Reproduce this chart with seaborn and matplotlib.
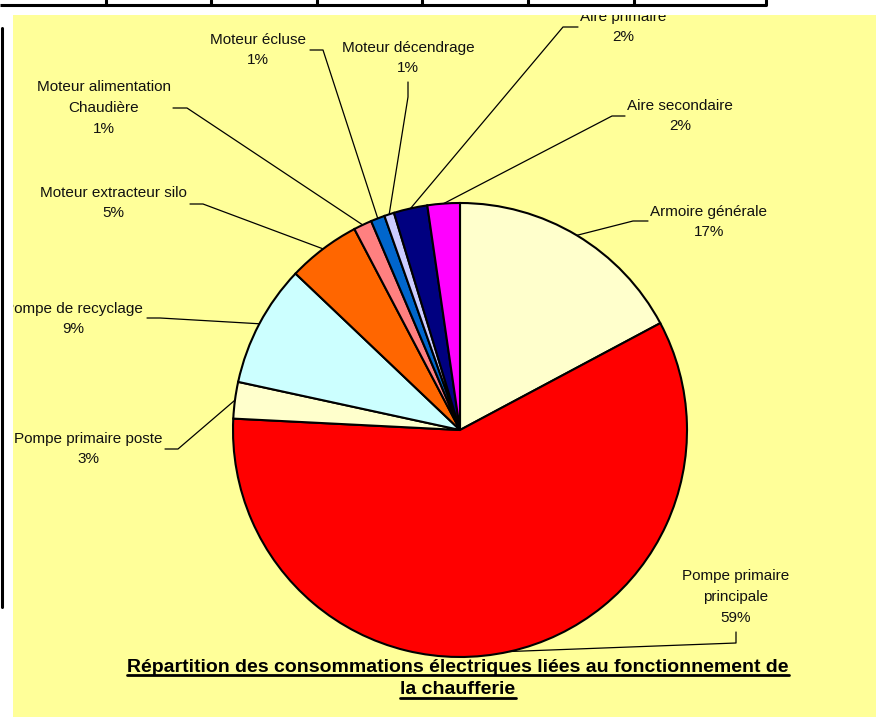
import matplotlib
matplotlib.use("Agg")
import matplotlib.pyplot as plt
from matplotlib.lines import Line2D
import seaborn as sns
import numpy as np

# ---------------- data ----------------
categories = ["Armoire générale", "Pompe primaire principale", "Pompe primaire poste",
              "Pompe de recyclage", "Moteur extracteur silo", "Moteur alimentation Chaudière",
              "Moteur écluse", "Moteur décendrage", "Aire primaire", "Aire secondaire"]
label_names = ["Armoire générale", "Pompe primaire\nprincipale", "Pompe primaire poste",
               "Pompe de recyclage", "Moteur extracteur silo", "Moteur alimentation\nChaudière",
               "Moteur écluse", "Moteur décendrage", "Aire primaire", "Aire secondaire"]
values = [17.2, 58.6, 2.6, 8.7, 5.2, 1.3, 1.0, 0.7, 2.4, 2.3]
colors = ["#FFFFCC", "#FF0000", "#FFFFCC", "#CCFFFF", "#FF6600",
          "#FF8080", "#0066CC", "#CCCCFF", "#000080", "#FF00FF"]
title_lines = ["Répartition des consommations électriques liées au fonctionnement de",
               "la chaufferie"]

# ---------------- layout (pixel positions, y measured from top) ----------------
W, H = 876, 717
PANEL_X0, PANEL_Y0 = 13, 15
CENTER_PX = (460, 430)
RADIUS_PX = 227
label_pos = [(709, 222), (736, 597), (88, 449), (73, 319), (113, 203),
             (104, 108), (258, 50), (408, 58), (623, 27), (680, 116)]
leader_pts = [[(633, 221), (648, 221)], [(736, 643), (736, 632)], [(178, 449), (165, 449)],
              [(160, 318), (147, 318)], [(203, 204), (190, 204)], [(187, 108), (173, 108)],
              [(323, 50), (310, 50)], [(408, 97), (408, 82)], [(563, 27), (578, 27)],
              [(612, 116), (625, 116)]]
title_y = [667, 690]
YELLOW = "#FFFF99"

sns.set_theme(style="white")
plt.rcParams['font.family'] = ['Liberation Sans', 'DejaVu Sans']

fig = plt.figure(figsize=(W / 100, H / 100), dpi=100)
fig.patch.set_facecolor("white")

# background axes in figure pixels (y down) for the table remnants
bg = fig.add_axes([0, 0, 1, 1])
bg.set_xlim(0, W)
bg.set_ylim(H, 0)
bg.axis("off")
table_x = [106, 211, 317, 422, 528, 634, 766]
bg.plot([0, 766], [5, 5], color="black", lw=2.2, solid_capstyle="butt")
for tx in table_x:
    bg.plot([tx, tx], [0, 5], color="black", lw=2.2)
bg.plot([2, 2], [28, 607], color="black", lw=2.2)

# yellow chart area
ax = fig.add_axes([PANEL_X0 / W, 0, (W - PANEL_X0) / W, (H - PANEL_Y0) / H])
ax.set_facecolor(YELLOW)
for s in ax.spines.values():
    s.set_visible(False)

def to_data(p):
    return p[0], H - p[1]

cx, cy = to_data(CENTER_PX)
pal = sns.color_palette(colors)
wedges, _ = ax.pie(values, colors=pal, startangle=90, counterclock=False,
                   center=(cx, cy), radius=RADIUS_PX, frame=True,
                   wedgeprops=dict(edgecolor="black", linewidth=1.5))
ax.set_xlim(PANEL_X0, W)
ax.set_ylim(0, H - PANEL_Y0)
ax.set_aspect("auto")
ax.set_xticks([])
ax.set_yticks([])

total = sum(values)
for w, name, v, lp, pts in zip(wedges, label_names, values, label_pos, leader_pts):
    mid = np.deg2rad((w.theta1 + w.theta2) / 2)
    ex = w.center[0] + w.r * np.cos(mid)
    ey = w.center[1] + w.r * np.sin(mid)
    xs = [ex] + [p[0] for p in pts]
    ys = [ey] + [H - p[1] for p in pts]
    ax.plot(xs, ys, color="black", lw=0.9, zorder=3, clip_on=True)
    pct = f"{round(v / total * 100):d}%"
    tx, ty = to_data(lp)
    ax.text(tx, ty, f"{name}\n{pct}", ha="center", va="center", ma="center",
            fontsize=11, color="#111111", linespacing=1.6, clip_on=True, zorder=4)

title_texts = []
for line, yy in zip(title_lines, title_y):
    t = ax.text(458, H - yy, line, ha="center", va="center", fontsize=14,
                fontweight="bold", family=['Liberation Sans Narrow', 'Liberation Sans', 'DejaVu Sans'],
                color="black", clip_on=True, zorder=5)
    title_texts.append(t)

fig.canvas.draw()
renderer = fig.canvas.get_renderer()
inv = fig.transFigure.inverted()
for t in title_texts:
    bb = t.get_window_extent(renderer)
    (x0, y0) = inv.transform((bb.x0, bb.y0 + 1))
    (x1, _) = inv.transform((bb.x1, bb.y0 + 1))
    fig.add_artist(Line2D([x0, x1], [y0, y0], color="black", lw=2.0, zorder=10))

fig.savefig("out.png", dpi=100, facecolor="white")
